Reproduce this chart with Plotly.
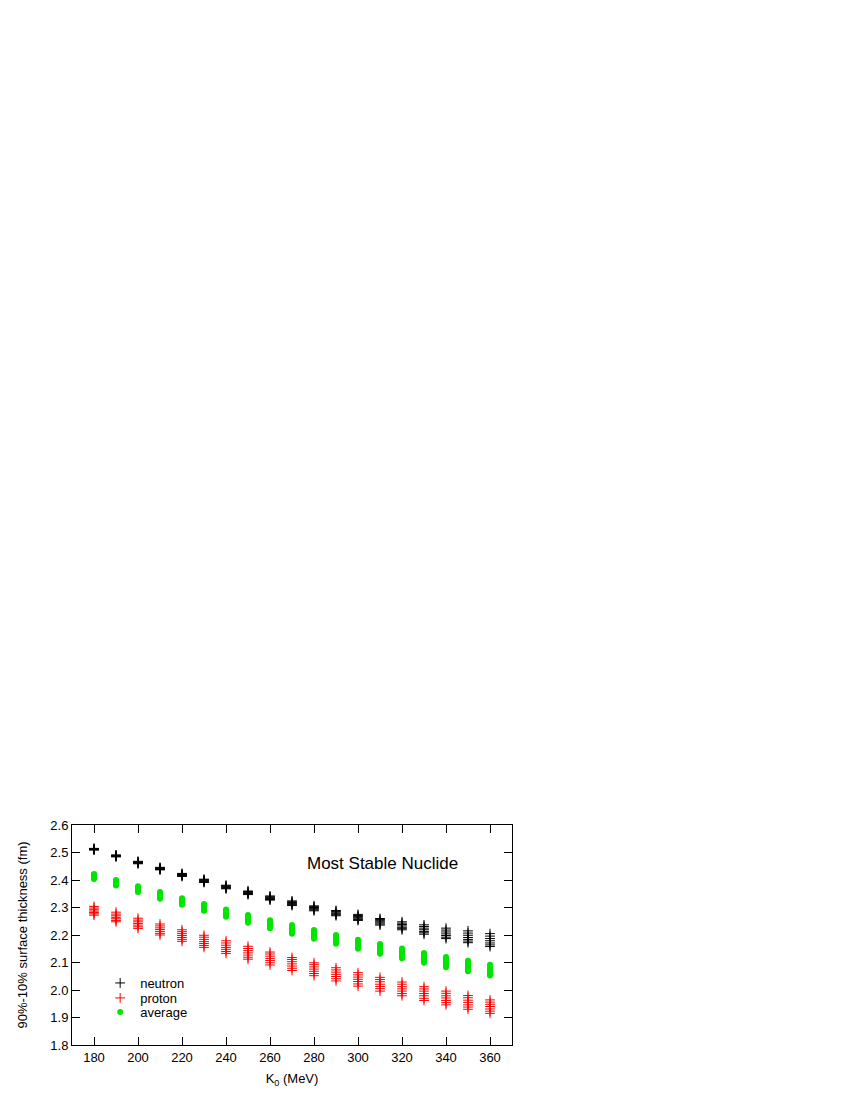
import plotly.graph_objects as go

# K0 values (MeV)
k0 = [180, 190, 200, 210, 220, 230, 240, 250, 260, 270,
      280, 290, 300, 310, 320, 330, 340, 350, 360]

# surface thickness (fm) for each K0, one value per nuclide
neutron = [
    [2.509, 2.510, 2.511, 2.512, 2.513, 2.514, 2.515],
    [2.484, 2.486, 2.487, 2.488, 2.489, 2.490, 2.491],
    [2.459, 2.461, 2.462, 2.464, 2.465, 2.466, 2.468],
    [2.437, 2.438, 2.440, 2.441, 2.443, 2.444, 2.446],
    [2.413, 2.415, 2.417, 2.418, 2.420, 2.422, 2.424],
    [2.391, 2.393, 2.395, 2.397, 2.399, 2.401, 2.403],
    [2.368, 2.370, 2.372, 2.374, 2.377, 2.379, 2.381],
    [2.347, 2.349, 2.351, 2.354, 2.356, 2.358, 2.360],
    [2.327, 2.329, 2.332, 2.334, 2.337, 2.339, 2.342],
    [2.307, 2.310, 2.312, 2.315, 2.318, 2.321, 2.324],
    [2.288, 2.291, 2.294, 2.297, 2.300, 2.303, 2.306],
    [2.270, 2.273, 2.276, 2.279, 2.283, 2.286, 2.289],
    [2.253, 2.256, 2.259, 2.263, 2.267, 2.271, 2.275],
    [2.236, 2.240, 2.244, 2.248, 2.252, 2.256, 2.260],
    [2.219, 2.223, 2.228, 2.233, 2.238, 2.243, 2.248],
    [2.203, 2.208, 2.213, 2.219, 2.225, 2.231, 2.237],
    [2.187, 2.192, 2.198, 2.204, 2.211, 2.218, 2.225],
    [2.172, 2.178, 2.184, 2.191, 2.199, 2.207, 2.215],
    [2.158, 2.164, 2.171, 2.179, 2.187, 2.196, 2.205],
]

proton = [
    [2.272, 2.277, 2.282, 2.287, 2.292, 2.298, 2.304],
    [2.248, 2.253, 2.259, 2.264, 2.270, 2.276, 2.283],
    [2.224, 2.230, 2.236, 2.242, 2.248, 2.254, 2.261],
    [2.200, 2.206, 2.213, 2.220, 2.226, 2.233, 2.240],
    [2.177, 2.184, 2.191, 2.198, 2.205, 2.212, 2.219],
    [2.155, 2.162, 2.169, 2.176, 2.184, 2.192, 2.199],
    [2.133, 2.140, 2.148, 2.155, 2.163, 2.171, 2.179],
    [2.112, 2.119, 2.127, 2.135, 2.143, 2.151, 2.159],
    [2.091, 2.099, 2.107, 2.115, 2.123, 2.131, 2.138],
    [2.071, 2.079, 2.087, 2.095, 2.103, 2.111, 2.118],
    [2.052, 2.060, 2.068, 2.076, 2.084, 2.092, 2.099],
    [2.033, 2.041, 2.049, 2.057, 2.065, 2.073, 2.081],
    [2.014, 2.022, 2.031, 2.039, 2.047, 2.055, 2.063],
    [1.996, 2.005, 2.013, 2.021, 2.030, 2.038, 2.046],
    [1.979, 1.987, 1.996, 2.004, 2.012, 2.021, 2.029],
    [1.962, 1.970, 1.979, 1.987, 1.996, 2.004, 2.012],
    [1.946, 1.954, 1.962, 1.971, 1.979, 1.988, 1.996],
    [1.930, 1.938, 1.946, 1.955, 1.963, 1.972, 1.980],
    [1.915, 1.923, 1.931, 1.940, 1.948, 1.956, 1.964],
]

average = [
    [2.404, 2.407, 2.410, 2.413, 2.416, 2.419, 2.422],
    [2.380, 2.383, 2.386, 2.390, 2.393, 2.396, 2.400],
    [2.356, 2.359, 2.363, 2.366, 2.370, 2.373, 2.377],
    [2.332, 2.336, 2.340, 2.344, 2.348, 2.352, 2.356],
    [2.310, 2.314, 2.318, 2.322, 2.326, 2.330, 2.334],
    [2.288, 2.292, 2.296, 2.300, 2.305, 2.309, 2.313],
    [2.266, 2.270, 2.275, 2.279, 2.284, 2.288, 2.293],
    [2.245, 2.250, 2.254, 2.259, 2.264, 2.268, 2.273],
    [2.225, 2.230, 2.234, 2.239, 2.244, 2.249, 2.254],
    [2.205, 2.210, 2.215, 2.220, 2.225, 2.230, 2.236],
    [2.186, 2.191, 2.196, 2.201, 2.207, 2.212, 2.218],
    [2.168, 2.173, 2.178, 2.184, 2.189, 2.195, 2.200],
    [2.150, 2.155, 2.161, 2.166, 2.172, 2.178, 2.183],
    [2.132, 2.138, 2.143, 2.149, 2.155, 2.161, 2.167],
    [2.115, 2.121, 2.127, 2.133, 2.139, 2.145, 2.151],
    [2.099, 2.105, 2.111, 2.117, 2.123, 2.129, 2.135],
    [2.083, 2.089, 2.095, 2.101, 2.108, 2.114, 2.120],
    [2.068, 2.074, 2.080, 2.086, 2.093, 2.099, 2.106],
    [2.053, 2.059, 2.065, 2.072, 2.078, 2.085, 2.092],
]


def flatten(vals):
    xs, ys = [], []
    for k, group in zip(k0, vals):
        for v in group:
            xs.append(k)
            ys.append(v)
    return xs, ys


xn, yn = flatten(neutron)
xp, yp = flatten(proton)
xa, ya = flatten(average)

fig = go.Figure()
fig.add_trace(go.Scatter(x=xn, y=yn, mode="markers", name="neutron", legend="legend",
                         showlegend=True,
                         marker=dict(symbol="cross-thin", size=7, color="black",
                                     line=dict(color="black", width=1))))
fig.add_trace(go.Scatter(x=xp, y=yp, mode="markers", name="proton", legend="legend2",
                         showlegend=True,
                         marker=dict(symbol="cross-thin", size=7, color="red",
                                     line=dict(color="red", width=1))))
fig.add_trace(go.Scatter(x=xa, y=ya, mode="markers", name="average", legend="legend3",
                         showlegend=True,
                         marker=dict(symbol="circle", size=6, color="#00e600")))

fig.add_annotation(text="Most Stable Nuclide", x=0.705, y=0.827, xref="paper", yref="paper",
                   xanchor="center", yanchor="middle",
                   showarrow=False, font=dict(size=17, color="black"))

axis_style = dict(showgrid=False, zeroline=False, showline=True, linecolor="black",
                  linewidth=1, mirror="ticks", ticks="inside", ticklen=8,
                  tickcolor="black", tickwidth=1, tickfont=dict(size=13, color="black"),
                  automargin=False)

fig.update_xaxes(range=[170, 370], dtick=20, tick0=180,
                 title=dict(text="K<sub>0</sub> (MeV)", font=dict(size=13, color="black"), standoff=10),
                 **axis_style)
fig.update_yaxes(range=[1.8, 2.6], dtick=0.1, tickformat=".1f",
                 title=dict(text="90%-10% surface thickness (fm)", font=dict(size=13, color="black"),
                            standoff=19),
                 **axis_style)

leg = dict(x=0.064, xanchor="left", yanchor="top", bgcolor="rgba(0,0,0,0)", font=dict(size=13))

fig.update_layout(
    width=850, height=1100,
    showlegend=True,
    margin=dict(l=64, r=346, t=817, b=63, autoexpand=False),
    plot_bgcolor="white", paper_bgcolor="white",
    font=dict(family="Liberation Sans, Arial, sans-serif", color="black"),
    legend=dict(y=0.35, **leg),
    legend2=dict(y=0.282, **leg),
    legend3=dict(y=0.218, **leg),
)

fig.write_html("out.html")
